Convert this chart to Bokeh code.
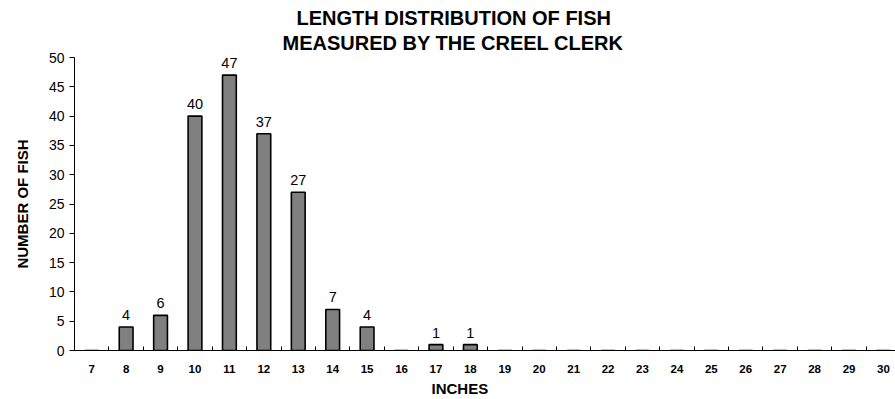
from bokeh.plotting import figure
from bokeh.models import Range1d, FixedTicker, Title, ColumnDataSource
from bokeh.embed import file_html
from bokeh.resources import INLINE

# Data
inches = list(range(7, 31))
counts = [0, 4, 6, 40, 47, 37, 27, 7, 4, 0, 1, 1, 0, 0, 0, 0, 0, 0, 0, 0, 0, 0, 0, 0]
y_ticks = [0, 5, 10, 15, 20, 25, 30, 35, 40, 45, 50]

FONT = "Liberation Sans"

p = figure(width=895, height=399, output_backend="svg", toolbar_location=None,
           x_range=Range1d(6.5, 30.35), y_range=Range1d(0, 50),
           min_border_left=74, min_border_right=0, min_border_top=57, min_border_bottom=49)
p.outline_line_color = None
p.xgrid.grid_line_color = None
p.ygrid.grid_line_color = None

src = ColumnDataSource(dict(x=inches, y=counts))
p.vbar(x="x", top="y", width=0.4, source=src, fill_color="#808080",
       line_color="black", line_width=1.6)

lab_x = [x for x, c in zip(inches, counts) if c > 0]
lab_y = [c for c in counts if c > 0]
lab_t = [str(c) for c in lab_y]
lsrc = ColumnDataSource(dict(x=lab_x, y=lab_y, t=lab_t))
p.text(x="x", y="y", text="t", source=lsrc, text_align="center",
       text_baseline="alphabetic", y_offset=-12, text_font_size="14.5px",
       text_color="black", text_font={"value": FONT})

# x axis
xa = p.xaxis[0]
xa.ticker = FixedTicker(ticks=inches, minor_ticks=[v + 0.5 for v in range(6, 31)])
xa.major_tick_line_color = None
xa.minor_tick_in = 4
xa.minor_tick_out = 0
xa.minor_tick_line_color = "black"
xa.axis_line_color = "black"
xa.major_label_text_font = FONT
xa.major_label_text_font_style = "bold"
xa.major_label_text_font_size = "11.5px"
xa.major_label_standoff = 8
xa.major_label_text_color = "black"

# y axis
ya = p.yaxis[0]
ya.ticker = FixedTicker(ticks=y_ticks)
ya.minor_tick_line_color = None
ya.major_tick_in = 0
ya.major_tick_out = 5
ya.major_tick_line_color = "black"
ya.axis_line_color = "black"
ya.major_label_text_font = FONT
ya.major_label_text_font_size = "14px"
ya.major_label_text_color = "black"
ya.major_label_standoff = 5
ya.axis_label = "NUMBER OF FISH"
ya.axis_label_text_font = FONT
ya.axis_label_text_font_style = "bold"
ya.axis_label_text_font_size = "15px"
ya.axis_label_text_color = "black"
ya.axis_label_standoff = 15

p.add_layout(Title(text="INCHES", align="left", offset=357, text_font=FONT,
                   text_font_style="bold", text_font_size="15px", text_color="black",
                   standoff=4), "below")

p.add_layout(Title(text="MEASURED BY THE CREEL CLERK", align="left", offset=208,
                   text_font=FONT, text_font_style="bold", text_font_size="20px",
                   text_color="black", standoff=7), "above")
p.add_layout(Title(text="LENGTH DISTRIBUTION OF FISH", align="left", offset=222,
                   text_font=FONT, text_font_style="bold", text_font_size="20px",
                   text_color="black", standoff=-4), "above")

open("out.html", "w").write(file_html(p, INLINE))
